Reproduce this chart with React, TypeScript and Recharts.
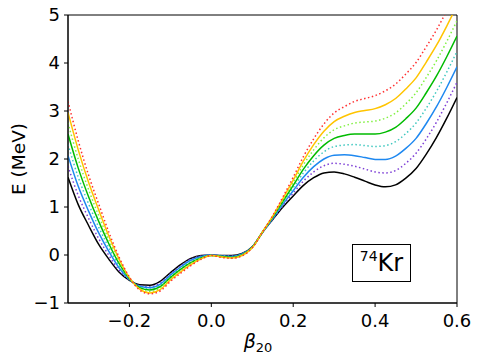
import React from "react"
import { LineChart, Line, XAxis, YAxis, ReferenceArea } from "recharts"

// deformation grid
const beta = [
	-0.35, -0.325, -0.3, -0.275, -0.25, -0.225, -0.2, -0.175, -0.15, -0.125,
	-0.1, -0.075, -0.05, -0.025, 0, 0.025, 0.05, 0.075, 0.1, 0.125,
	0.15, 0.175, 0.2, 0.225, 0.25, 0.275, 0.3, 0.325, 0.35, 0.375,
	0.4, 0.425, 0.45, 0.475, 0.5, 0.525, 0.55, 0.575, 0.6,
]

// energy curves (MeV)
const eBlack = [
	1.62, 1.05, 0.62, 0.22, -0.09, -0.36, -0.53, -0.62, -0.63, -0.55,
	-0.37, -0.2, -0.07, -0.01, 0, -0.01, -0.01, 0.03, 0.17, 0.47,
	0.74, 1.0, 1.23, 1.45, 1.61, 1.71, 1.73, 1.69, 1.62, 1.54,
	1.46, 1.42, 1.46, 1.6, 1.8, 2.1, 2.45, 2.85, 3.28,
]
const ePurple = [
	1.85, 1.24, 0.77, 0.34, -0.01, -0.32, -0.52, -0.64, -0.66, -0.58,
	-0.4, -0.23, -0.09, -0.02, 0, -0.01, -0.02, 0.02, 0.17, 0.47,
	0.75, 1.03, 1.29, 1.54, 1.73, 1.86, 1.91, 1.89, 1.85, 1.79,
	1.73, 1.71, 1.76, 1.91, 2.12, 2.42, 2.77, 3.17, 3.6,
]
const eBlue = [
	2.07, 1.43, 0.92, 0.46, 0.07, -0.27, -0.51, -0.65, -0.68, -0.61,
	-0.42, -0.25, -0.11, -0.03, 0, -0.02, -0.03, 0.02, 0.16, 0.47,
	0.76, 1.06, 1.34, 1.62, 1.84, 2.0, 2.08, 2.09, 2.07, 2.03,
	1.99, 1.99, 2.06, 2.22, 2.43, 2.74, 3.09, 3.49, 3.92,
]
const eCyan = [
	2.3, 1.62, 1.07, 0.58, 0.15, -0.23, -0.5, -0.67, -0.71, -0.63,
	-0.45, -0.28, -0.14, -0.05, -0.01, -0.02, -0.04, 0.01, 0.16, 0.48,
	0.78, 1.09, 1.4, 1.71, 1.96, 2.15, 2.26, 2.29, 2.3, 2.28,
	2.26, 2.28, 2.36, 2.53, 2.75, 3.06, 3.41, 3.81, 4.24,
]
const eGreen = [
	2.52, 1.81, 1.22, 0.7, 0.23, -0.18, -0.49, -0.68, -0.73, -0.66,
	-0.47, -0.3, -0.16, -0.06, -0.01, -0.03, -0.05, 0, 0.16, 0.48,
	0.79, 1.12, 1.45, 1.79, 2.07, 2.29, 2.43, 2.49, 2.52, 2.52,
	2.52, 2.56, 2.66, 2.84, 3.06, 3.38, 3.73, 4.13, 4.56,
]
const eLime = [
	2.75, 2.0, 1.37, 0.82, 0.31, -0.14, -0.48, -0.7, -0.76, -0.69,
	-0.5, -0.33, -0.18, -0.07, -0.01, -0.04, -0.06, -0.01, 0.16, 0.48,
	0.8, 1.15, 1.51, 1.88, 2.19, 2.44, 2.61, 2.69, 2.75, 2.77,
	2.79, 2.85, 2.96, 3.15, 3.38, 3.7, 4.05, 4.45, 4.88,
]
const eGold = [
	2.97, 2.19, 1.52, 0.94, 0.39, -0.09, -0.47, -0.71, -0.79, -0.72,
	-0.52, -0.35, -0.2, -0.08, -0.01, -0.04, -0.06, -0.01, 0.15, 0.48,
	0.81, 1.18, 1.56, 1.96, 2.3, 2.58, 2.78, 2.89, 2.97, 3.01,
	3.05, 3.13, 3.26, 3.46, 3.69, 4.02, 4.37, 4.77, 5.2,
]
const eRed = [
	3.2, 2.38, 1.67, 1.06, 0.47, -0.05, -0.46, -0.73, -0.81, -0.75,
	-0.55, -0.38, -0.22, -0.09, -0.01, -0.05, -0.07, -0.02, 0.15, 0.48,
	0.82, 1.21, 1.62, 2.05, 2.42, 2.73, 2.96, 3.09, 3.2, 3.26,
	3.32, 3.42, 3.56, 3.77, 4.01, 4.34, 4.69, 5.09, 5.52,
]

const xTicks = [-0.2, 0, 0.2, 0.4, 0.6]
const yTicks = [-1, 0, 1, 2, 3, 4, 5]

const series = [
	{ key: "black", values: eBlack, color: "#000000", dotted: false },
	{ key: "purple", values: ePurple, color: "#7d3fd6", dotted: true },
	{ key: "blue", values: eBlue, color: "#1e88f0", dotted: false },
	{ key: "cyan", values: eCyan, color: "#40c8c0", dotted: true },
	{ key: "green", values: eGreen, color: "#00bb00", dotted: false },
	{ key: "lime", values: eLime, color: "#80f040", dotted: true },
	{ key: "gold", values: eGold, color: "#ffc400", dotted: false },
	{ key: "red", values: eRed, color: "#ff3030", dotted: true },
]

const data = beta.map((b, i) => {
	const row: Record<string, number> = { x: b }
	series.forEach(s => (row[s.key] = s.values[i]))
	return row
})

const FONT = "'DejaVu Sans', sans-serif"
const minus = (s: string) => s.replace("-", "\u2212")

const App = () => {
	return (
		<div
			style={{
				position: "absolute",
				left: 0,
				top: 0,
				width: 480,
				height: 362,
				background: "#fff",
				fontFamily: FONT,
			}}>
			<LineChart
				width={480}
				height={362}
				data={data}
				margin={{ top: 15, right: 23, bottom: 14, left: 0 }}>
				<XAxis
					dataKey='x'
					type='number'
					domain={[-0.35, 0.6]}
					allowDataOverflow
					ticks={xTicks}
					tickFormatter={v => minus(Number(v).toFixed(1))}
					tick={{ fontSize: 18, fill: "#000", fontFamily: FONT }}
					tickSize={4}
					tickMargin={7}
					height={45}
					stroke='#000'
					label={{
						content: () => (
							<text x={258} y={348} textAnchor='middle' fontFamily={FONT} fill='#000'>
								<tspan fontSize={19} fontStyle='italic'>β</tspan>
								<tspan fontSize={13} dy={4}>20</tspan>
							</text>
						),
					}}
				/>
				<YAxis
					type='number'
					domain={[-1, 5]}
					allowDataOverflow
					ticks={yTicks}
					tickFormatter={v => minus(String(v))}
					tick={{ fontSize: 18, fill: "#000", fontFamily: FONT }}
					tickSize={4}
					tickMargin={4}
					width={68}
					stroke='#000'
					label={{
						content: () => (
							<text
								x={25}
								y={159}
								transform='rotate(-90 25 159)'
								textAnchor='middle'
								fontSize={18.5}
								fontFamily={FONT}
								fill='#000'>
								E (MeV)
							</text>
						),
					}}
				/>
				<ReferenceArea
					x1={-0.35}
					x2={0.6}
					y1={-1}
					y2={5}
					fill='none'
					stroke='#000'
					strokeWidth={1}
				/>
				{series.map(s => (
					<Line
						key={s.key}
						type='monotone'
						dataKey={s.key}
						stroke={s.color}
						strokeWidth={1.5}
						strokeDasharray={s.dotted ? "1.5 2.5" : undefined}
						dot={false}
						activeDot={false}
						isAnimationActive={false}
					/>
				))}
			</LineChart>
			<div
				style={{
					position: "absolute",
					left: 352,
					top: 244,
					width: 57,
					height: 36,
					border: "1px solid #000",
					display: "flex",
					alignItems: "center",
					justifyContent: "center",
					background: "#fff",
					color: "#000",
				}}>
				<span style={{ fontSize: 14, position: "relative", top: -7 }}>74</span>
				<span style={{ fontSize: 24 }}>Kr</span>
			</div>
		</div>
	)
}

export default App
